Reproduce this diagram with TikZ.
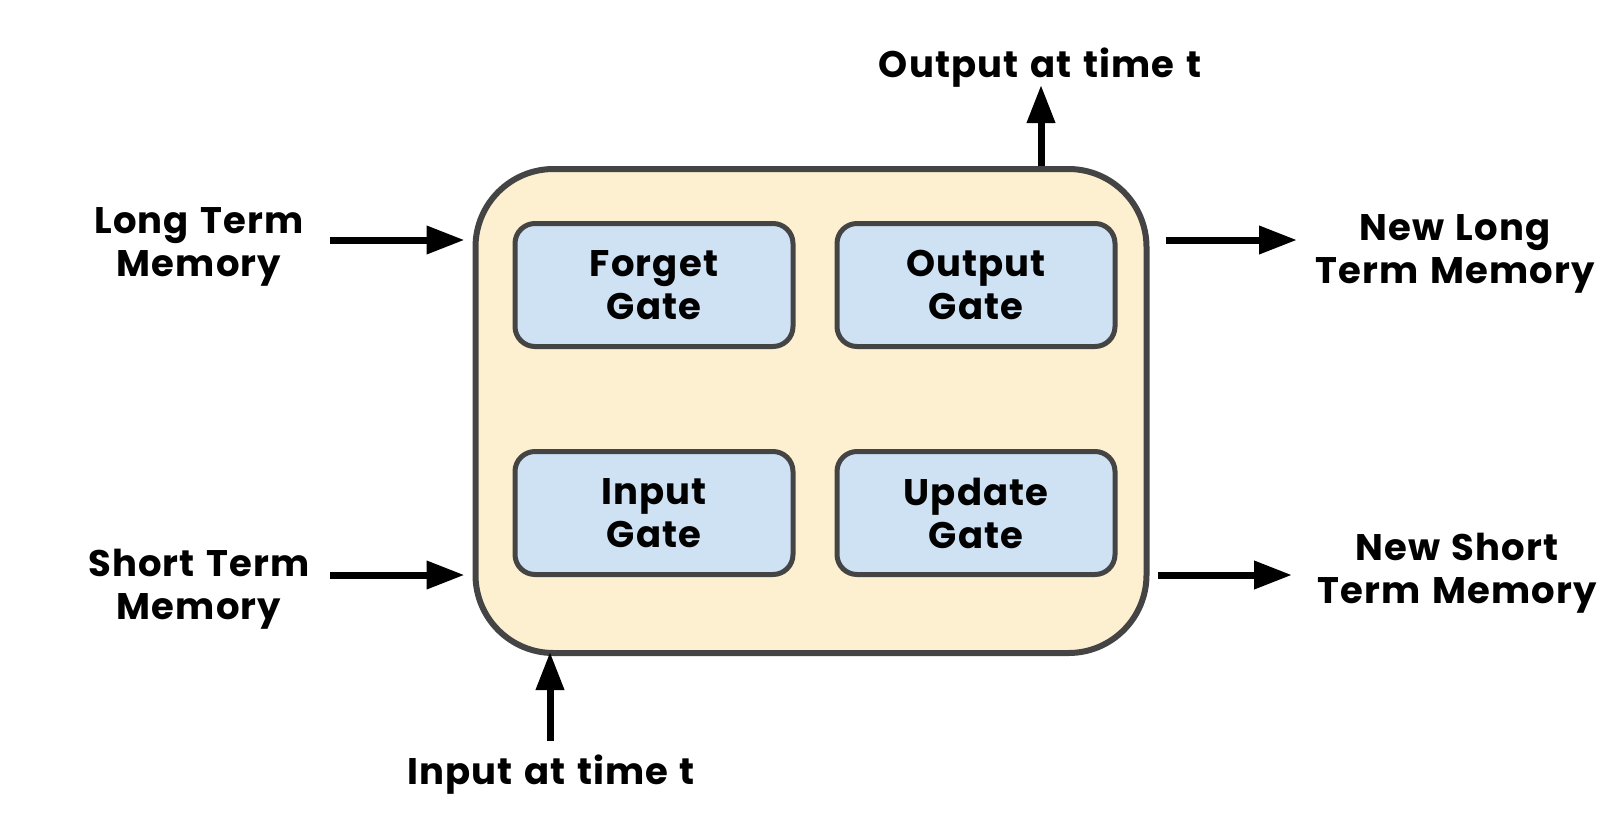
\documentclass[tikz,border=0pt]{standalone}
\usepackage{fontspec}
\setmainfont{Poppins}[LetterSpace=3,WordSpace=1.3]
\usetikzlibrary{arrows.meta}
\definecolor{edgegray}{HTML}{444444}
\definecolor{cellfill}{HTML}{FDF0D0}
\definecolor{gatefill}{HTML}{CFE2F3}
\begin{document}
\begin{tikzpicture}[x=1pt,y=-1pt,
  cellbox/.style={draw=edgegray,fill=cellfill,line width=6pt,rounded corners=78pt,
    minimum width=671pt,minimum height=484pt,inner sep=0pt},
  gatebox/.style={draw=edgegray,fill=gatefill,line width=5pt,rounded corners=20pt,
    minimum width=278pt,minimum height=123pt,inner sep=0pt,align=center,
    font=\fontsize{37}{43}\selectfont\bfseries},
  lbl/.style={align=center,inner sep=0pt,font=\fontsize{37}{43}\selectfont\bfseries},
  flow/.style={line width=7pt,-{Triangle[length=38pt,width=27pt]}}]
  \useasboundingbox (0,0) rectangle (1617,828);

  % LSTM cell and its four gates
  \node[cellbox] (cell) at (811,411) {};
  \node[gatebox] (forget) at (654,285) {Forget\\Gate};
  \node[gatebox] (outgate) at (976,285) {Output\\Gate};
  \node[gatebox] (ingate) at (654,513) {Input\\Gate};
  \node[gatebox] (update) at (976,513) {Update\\Gate};

  % labels
  \node[lbl] (ltm) at (199,246.5) {Long Term\\Memory};
  \node[lbl] (stm) at (199,589.5) {Short Term\\Memory};
  \node[lbl] (nltm) at (1455,253.5) {New Long\\Term Memory};
  \node[lbl] (nstm) at (1457,573.5) {New Short\\Term Memory};
  \node[lbl] (outt) at (1040,68) {Output at time t};
  \node[lbl] (int) at (551,775) {Input at time t};

  % arrow ends
  \coordinate (ltm-a) at (330,240);
  \coordinate (stm-a) at (330,575);
  \coordinate (nltm-a) at (1297,240);
  \coordinate (nstm-a) at (1292,575);
  \coordinate (outt-a) at (1041,85);
  \coordinate (int-a) at (550,741);

  % connectors
  \draw[flow,shorten >=8pt] (ltm-a) -- (cell.west |- ltm-a);
  \draw[flow,shorten >=8pt] (stm-a) -- (cell.west |- stm-a);
  \draw[flow,shorten <=16pt] (cell.east |- nltm-a) -- (nltm-a);
  \draw[flow,shorten <=8pt] (cell.east |- nstm-a) -- (nstm-a);
  \draw[flow] (cell.north -| outt-a) -- (outt-a);
  \draw[flow,shorten >=-4pt] (int-a) -- (cell.south -| int-a);
\end{tikzpicture}
\end{document}
